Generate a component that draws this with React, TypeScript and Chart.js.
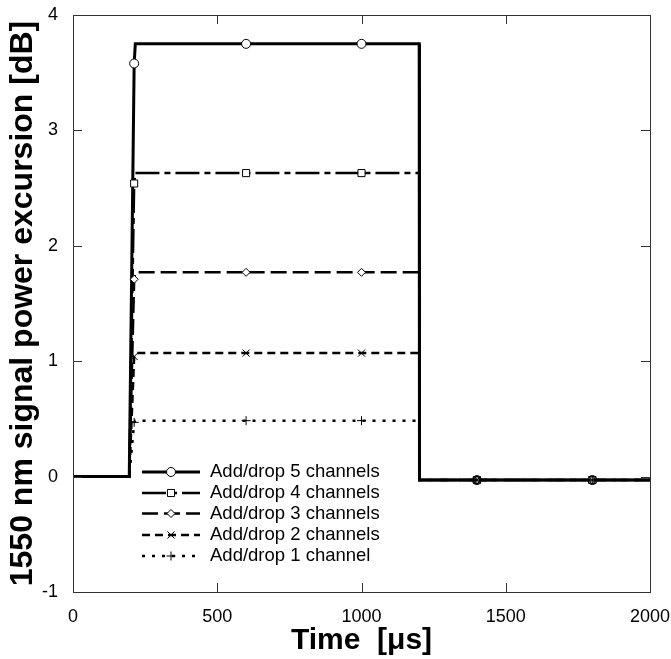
import React, { useEffect, useRef } from "react";
import { Chart, registerables, PointElement } from "chart.js";

Chart.register(...registerables);

// ---- data ----
const timeUs = [0, 195, 212, 216, 600, 1000, 1200, 1201, 1400, 1800, 2000];
const ch5 = [0, 0, 3.58, 3.75, 3.75, 3.75, 3.75, -0.03, -0.03, -0.03, -0.03];
const ch4 = [0, 0, 2.54, 2.63, 2.63, 2.63, 2.63, -0.03, -0.03, -0.03, -0.03];
const ch3 = [0, 0, 1.71, 1.77, 1.77, 1.77, 1.77, -0.03, -0.03, -0.03, -0.03];
const ch2 = [0, 0, 1.04, 1.07, 1.07, 1.07, 1.07, -0.03, -0.03, -0.03, -0.03];
const ch1 = [0, 0, 0.47, 0.485, 0.485, 0.485, 0.485, -0.03, -0.03, -0.03, -0.03];
const markerIndices = [2, 4, 5, 8, 9];
const seriesLabels = [
  "Add/drop 5 channels",
  "Add/drop 4 channels",
  "Add/drop 3 channels",
  "Add/drop 2 channels",
  "Add/drop 1 channel",
];
const xTicks = [0, 500, 1000, 1500, 2000];
const yTicks = [-1, 0, 1, 2, 3, 4];

const FONT = "'Liberation Sans', Arial, sans-serif";

const frameAndTicks = {
  id: "frameAndTicks",
  afterDraw(chart: any) {
    const { ctx, chartArea } = chart;
    const xs = chart.scales.x;
    const ys = chart.scales.y;
    ctx.save();
    ctx.strokeStyle = "#333";
    ctx.lineWidth = 1;
    ctx.strokeRect(chartArea.left + 0.5, chartArea.top + 0.5, chartArea.right - chartArea.left, chartArea.bottom - chartArea.top);
    const tl = 9;
    ctx.beginPath();
    for (const v of xTicks) {
      const px = Math.round(xs.getPixelForValue(v)) + 0.5;
      ctx.moveTo(px, chartArea.bottom);
      ctx.lineTo(px, chartArea.bottom - tl);
      ctx.moveTo(px, chartArea.top);
      ctx.lineTo(px, chartArea.top + tl);
    }
    for (const v of yTicks) {
      const py = Math.round(ys.getPixelForValue(v)) + 0.5;
      ctx.moveTo(chartArea.left, py);
      ctx.lineTo(chartArea.left + tl, py);
      ctx.moveTo(chartArea.right, py);
      ctx.lineTo(chartArea.right - tl, py);
    }
    ctx.stroke();
    ctx.restore();
  },
};

const lineLegend = {
  id: "lineLegend",
  afterDraw(chart: any) {
    const { ctx } = chart;
    const rows = [472, 493, 513.5, 535, 556];
    const x1 = 142;
    const x2 = 200;
    const tx = 210;
    const area = { left: 0, top: 0, right: 671, bottom: 659 };
    ctx.save();
    chart.data.datasets.forEach((ds: any, i: number) => {
      const y = rows[i];
      ctx.strokeStyle = "#000";
      ctx.lineWidth = ds.borderWidth;
      ctx.setLineDash(ds.borderDash || []);
      ctx.beginPath();
      ctx.moveTo(x1, y);
      ctx.lineTo(x2, y);
      ctx.stroke();
      ctx.setLineDash([]);
      const pt = new (PointElement as any)({
        x: (x1 + x2) / 2,
        y,
        options: {
          pointStyle: ds.pointStyle,
          radius: ds.legendRadius,
          borderWidth: 1,
          borderColor: "#000",
          backgroundColor: "#fff",
          rotation: 0,
        },
      });
      pt.draw(ctx, area);
      ctx.fillStyle = "#000";
      ctx.font = `18.5px ${FONT}`;
      ctx.textBaseline = "middle";
      ctx.textAlign = "left";
      ctx.fillText(ds.label, tx, y);
    });
    ctx.restore();
  },
};

function makeDataset(label: string, values: number[], dash: number[], width: number, style: string, r: number, order: number) {
  return {
    label,
    data: timeUs.map((t, i) => ({ x: t, y: values[i] })),
    borderColor: "#000",
    borderWidth: width,
    borderDash: dash,
    pointStyle: style,
    legendRadius: r,
    order,
    pointRadius: (c: any) => (markerIndices.includes(c.dataIndex) ? r : 0),
    pointBorderWidth: 1,
    pointBorderColor: "#000",
    pointBackgroundColor: "#fff",
    tension: 0,
    fill: false,
  };
}

export default function App() {
  const ref = useRef<HTMLCanvasElement | null>(null);
  useEffect(() => {
    document.body.style.margin = "0";
    const canvas = ref.current!;
    const chart = new Chart(canvas, {
      type: "line",
      data: {
        datasets: [
          makeDataset(seriesLabels[0], ch5, [], 3, "circle", 4.5, 5),
          makeDataset(seriesLabels[1], ch4, [24, 5, 6, 5], 2.5, "rect", 5, 4),
          makeDataset(seriesLabels[2], ch3, [16, 6], 2.5, "rectRot", 4, 3),
          makeDataset(seriesLabels[3], ch2, [8, 5], 2.5, "crossRot", 5, 2),
          makeDataset(seriesLabels[4], ch1, [3, 7], 2.5, "cross", 4.5, 1),
        ] as any,
      },
      options: {
        responsive: false,
        animation: false,
        events: [],
        layout: { padding: { top: 15, right: 21, left: 0, bottom: 0 } },
        plugins: { legend: { display: false }, tooltip: { enabled: false } },
        scales: {
          x: {
            type: "linear",
            min: 0,
            max: 2000,
            afterBuildTicks: (s: any) => {
              s.ticks = xTicks.map((v) => ({ value: v }));
            },
            ticks: {
              font: { size: 18, family: FONT },
              color: "#000",
              padding: 14,
              maxRotation: 0,
              callback: (v: any) => String(v),
            },
            grid: { display: false, drawTicks: false },
            border: { display: false },
            title: {
              display: true,
              text: "Time  [μs]",
              font: { size: 30, weight: "bold", family: FONT },
              color: "#000",
              padding: { top: 0, bottom: 0 },
            },
            afterFit: (s: any) => {
              s.height = 67;
              s.paddingLeft = 0;
              s.paddingRight = 0;
            },
          },
          y: {
            type: "linear",
            min: -1,
            max: 4,
            afterBuildTicks: (s: any) => {
              s.ticks = yTicks.map((v) => ({ value: v }));
            },
            ticks: {
              font: { size: 18, family: FONT },
              color: "#000",
              padding: 15,
              callback: (v: any) => String(v),
            },
            grid: { display: false, drawTicks: false },
            border: { display: false },
            title: {
              display: true,
              text: "1550 nm signal power excursion [dB]",
              font: { size: 32, weight: "bold", family: FONT },
              color: "#000",
              padding: { top: 4, bottom: 0 },
            },
            afterFit: (s: any) => {
              s.width = 73;
              s.paddingTop = 0;
              s.paddingBottom = 0;
            },
          },
        },
      } as any,
      plugins: [frameAndTicks, lineLegend],
    });
    return () => chart.destroy();
  }, []);
  return (
    <div style={{ position: "absolute", left: 0, top: 0, width: 671, height: 659, background: "#fff" }}>
      <canvas ref={ref} width={671} height={659} />
    </div>
  );
}
